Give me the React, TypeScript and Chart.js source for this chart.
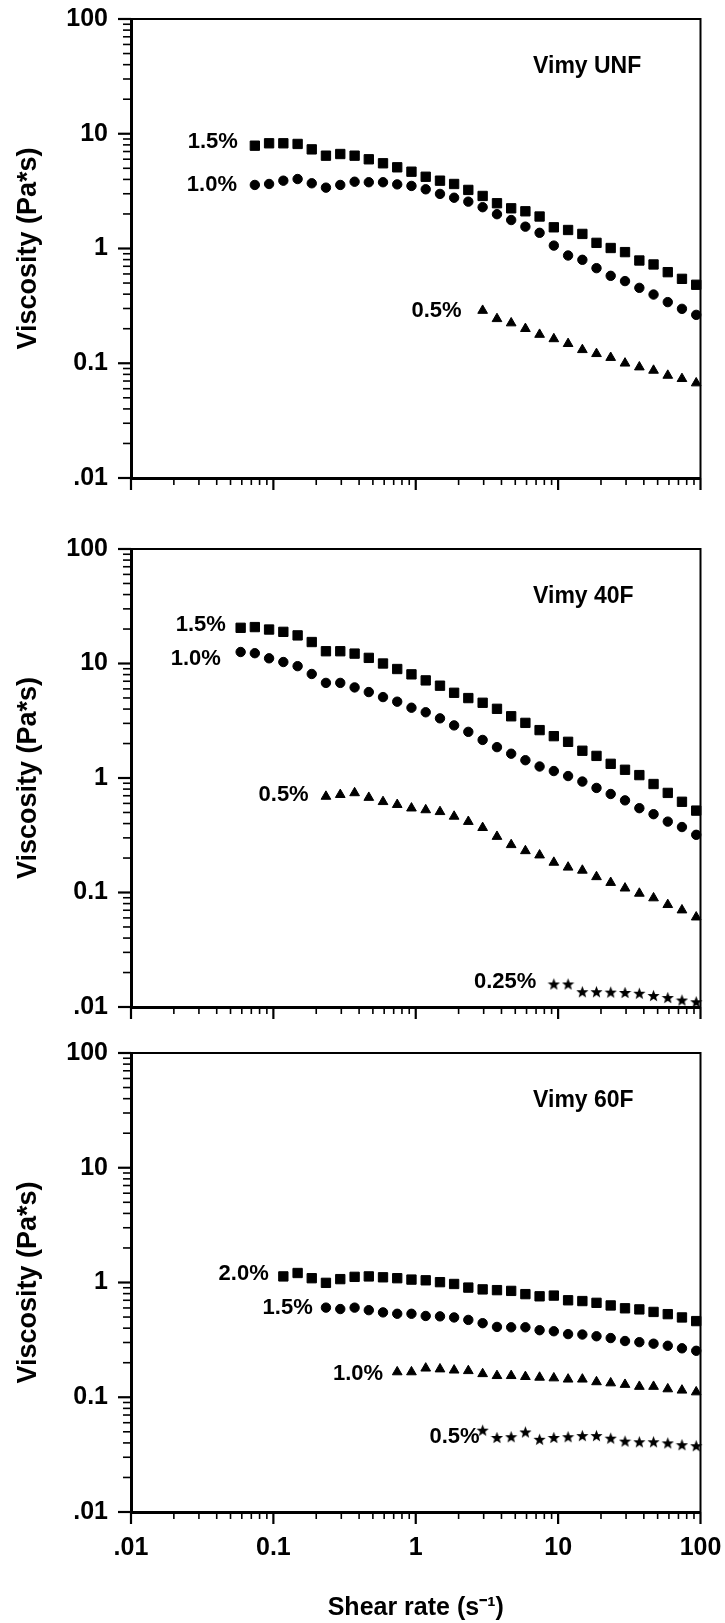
import React, { useEffect, useRef } from "react";
import { Chart, registerables } from "chart.js";

Chart.register(...registerables);

// ---------- shared axis data ----------
const SHEAR_RATE = [
  0.0589, 0.0741, 0.0933, 0.1175, 0.148, 0.186, 0.234, 0.295, 0.372, 0.468, 0.589,
  0.741, 0.933, 1.175, 1.48, 1.86, 2.34, 2.95, 3.72, 4.68, 5.89, 7.41, 9.33, 11.75,
  14.8, 18.6, 23.4, 29.5, 37.2, 46.8, 58.9, 74.1, 93.3,
];
const MAJOR_TICKS = [0.01, 0.1, 1, 10, 100];
const X_TICK_LABELS = [".01", "0.1", "1", "10", "100"];
const Y_TICK_LABELS = [".01", "0.1", "1", "10", "100"];
const X_TITLE = "Shear rate (s\u207B\u00B9)";
const Y_TITLE = "Viscosity (Pa*s)";

// ---------- Vimy UNF ----------
const UNF_15 = [
  7.87, 8.26, 8.26, 8.15, 7.31, 6.44, 6.66, 6.44, 5.99, 5.53, 5.1, 4.67, 4.22, 3.9, 3.65,
  3.24, 2.87, 2.48, 2.24, 2.11, 1.9, 1.53, 1.45, 1.34, 1.12, 1.01, 0.93, 0.786, 0.726,
  0.622, 0.544, 0.483,
];
const UNF_10 = [
  3.58, 3.65, 3.9, 4.03, 3.7, 3.39, 3.58, 3.82, 3.78, 3.78, 3.62, 3.51, 3.28, 2.99, 2.77,
  2.56, 2.29, 1.99, 1.77, 1.55, 1.37, 1.06, 0.869, 0.797, 0.674, 0.578, 0.52, 0.454,
  0.397, 0.341, 0.298, 0.264,
];
const UNF_05 = [
  0.288, 0.244, 0.224, 0.2, 0.178, 0.163, 0.148, 0.131, 0.121, 0.112, 0.1, 0.0926, 0.0866,
  0.0783, 0.0733, 0.0672,
];

// ---------- Vimy 40F ----------
const F40_15 = [
  20.5, 20.8, 19.8, 18.9, 17.6, 15.4, 12.8, 12.8, 12.2, 11.2, 10.0, 8.95, 8.04, 7.12, 6.4,
  5.55, 4.99, 4.54, 4.02, 3.46, 3.03, 2.62, 2.32, 2.07, 1.73, 1.56, 1.33, 1.18, 1.06,
  0.886, 0.741, 0.62, 0.519,
];
const F40_10 = [
  12.6, 12.3, 11.1, 10.3, 9.48, 8.1, 6.77, 6.77, 6.18, 5.63, 5.09, 4.64, 4.11, 3.75, 3.32,
  2.88, 2.53, 2.15, 1.86, 1.63, 1.43, 1.26, 1.15, 1.04, 0.931, 0.819, 0.725, 0.638, 0.545,
  0.483, 0.416, 0.373, 0.319,
];
const F40_05 = [
  0.69, 0.715, 0.741, 0.675, 0.62, 0.585, 0.545, 0.526, 0.507, 0.462, 0.416, 0.368, 0.308,
  0.261, 0.231, 0.212, 0.183, 0.166, 0.156, 0.137, 0.122, 0.109, 0.0982, 0.0895, 0.0782,
  0.0702, 0.0609,
];
const F40_025 = [
  0.0159, 0.0159, 0.0136, 0.0136, 0.0135, 0.0134, 0.0132, 0.0126, 0.0121, 0.0115, 0.0111,
];

// ---------- Vimy 60F ----------
const F60_20 = [
  1.13, 1.21, 1.09, 0.993, 1.07, 1.12, 1.13, 1.11, 1.09, 1.06, 1.045, 1.007, 0.971, 0.903,
  0.871, 0.858, 0.845, 0.792, 0.758, 0.769, 0.7, 0.689, 0.665, 0.631, 0.596, 0.583, 0.554,
  0.53, 0.496, 0.461,
];
const F60_15 = [
  0.604, 0.587, 0.604, 0.574, 0.549, 0.534, 0.534, 0.511, 0.507, 0.496, 0.472, 0.442, 0.41,
  0.407, 0.407, 0.384, 0.376, 0.355, 0.352, 0.34, 0.328, 0.309, 0.302, 0.293, 0.281, 0.267,
  0.254,
];
const F60_10 = [
  0.166, 0.166, 0.179, 0.176, 0.172, 0.17, 0.16, 0.154, 0.154, 0.151, 0.149, 0.147, 0.1435,
  0.1435, 0.136, 0.133, 0.129, 0.124, 0.124, 0.118, 0.115, 0.111,
];
const F60_05 = [
  0.0517, 0.0446, 0.0453, 0.0498, 0.043, 0.0446, 0.0453, 0.0463, 0.0463, 0.044, 0.0415,
  0.0409, 0.0409, 0.04, 0.0386, 0.0378,
];

const FONT = "'Liberation Sans', Arial, Helvetica, sans-serif";

type Marker = "rect" | "circle" | "triangle" | "star";
type Series = { name: string; x: number[]; y: number[]; marker: Marker };
type Note = { text: string; at: [number, number] };
type PanelDef = {
  title: string;
  series: Series[];
  notes: Note[];
  top: number;
  height: number;
  padTop: number;
  padBottom: number;
  xAxisHeight: number;
  showX: boolean;
};

const tail = (n: number) => SHEAR_RATE.slice(SHEAR_RATE.length - n);

const PANELS: PanelDef[] = [
  {
    title: "Vimy UNF",
    series: [
      { name: "1.5%", x: tail(UNF_15.length), y: UNF_15, marker: "rect" },
      { name: "1.0%", x: tail(UNF_10.length), y: UNF_10, marker: "circle" },
      { name: "0.5%", x: tail(UNF_05.length), y: UNF_05, marker: "triangle" },
    ],
    notes: [
      { text: "1.5%", at: [0.0563, 8.5] },
      { text: "1.0%", at: [0.0555, 3.57] },
      { text: "0.5%", at: [2.1, 0.285] },
    ],
    top: 0,
    height: 510,
    padTop: 19,
    padBottom: 12,
    xAxisHeight: 20,
    showX: false,
  },
  {
    title: "Vimy 40F",
    series: [
      { name: "1.5%", x: tail(F40_15.length), y: F40_15, marker: "rect" },
      { name: "1.0%", x: tail(F40_10.length), y: F40_10, marker: "circle" },
      { name: "0.5%", x: tail(F40_05.length), y: F40_05, marker: "triangle" },
      { name: "0.25%", x: tail(F40_025.length), y: F40_025, marker: "star" },
    ],
    notes: [
      { text: "1.5%", at: [0.0464, 21.7] },
      { text: "1.0%", at: [0.0428, 10.9] },
      { text: "0.5%", at: [0.177, 0.716] },
      { text: "0.25%", at: [7.03, 0.0165] },
    ],
    top: 510,
    height: 520,
    padTop: 39,
    padBottom: 3,
    xAxisHeight: 20,
    showX: false,
  },
  {
    title: "Vimy 60F",
    series: [
      { name: "2.0%", x: tail(F60_20.length), y: F60_20, marker: "rect" },
      { name: "1.5%", x: tail(F60_15.length), y: F60_15, marker: "circle" },
      { name: "1.0%", x: tail(F60_10.length), y: F60_10, marker: "triangle" },
      { name: "0.5%", x: tail(F60_05.length), y: F60_05, marker: "star" },
    ],
    notes: [
      { text: "2.0%", at: [0.0927, 1.19] },
      { text: "1.5%", at: [0.189, 0.6] },
      { text: "1.0%", at: [0.59, 0.16] },
      { text: "0.5%", at: [2.81, 0.0451] },
    ],
    top: 1030,
    height: 593,
    padTop: 23,
    padBottom: 0,
    xAxisHeight: 111,
    showX: true,
  },
];

function makeStar(): HTMLCanvasElement {
  const c = document.createElement("canvas");
  c.width = 13;
  c.height = 13;
  const ctx = c.getContext("2d")!;
  ctx.fillStyle = "#000";
  ctx.beginPath();
  for (let i = 0; i < 10; i++) {
    const r = i % 2 === 0 ? 6.4 : 2.7;
    const a = -Math.PI / 2 + (i * Math.PI) / 5;
    const px = 6.5 + r * Math.cos(a);
    const py = 7.1 + r * Math.sin(a);
    if (i === 0) ctx.moveTo(px, py);
    else ctx.lineTo(px, py);
  }
  ctx.closePath();
  ctx.fill();
  return c;
}

const hiddenTickGrid = (len: number) => ({
  display: true,
  drawOnChartArea: false,
  drawTicks: true,
  tickLength: len,
  color: "rgba(0,0,0,0)",
});

function Panel({ def }: { def: PanelDef }) {
  const ref = useRef<HTMLCanvasElement>(null);

  useEffect(() => {
    const star = makeStar();
    const radius: Record<Marker, number> = { rect: 6.6, circle: 4.7, triangle: 5.6, star: 6 };

    const datasets = def.series.map((s) => ({
      label: s.name,
      data: s.x.map((xv, i) => ({ x: xv, y: s.y[i] })),
      showLine: false,
      pointStyle: (s.marker === "star" ? star : s.marker) as any,
      pointRadius: radius[s.marker],
      pointBackgroundColor: "#000",
      pointBorderColor: "#000",
      pointBorderWidth: 1,
      clip: false as any,
    }));

    const decor = {
      id: "decor",
      afterDatasetsDraw(chart: any) {
        const { ctx, chartArea: a, scales } = chart;
        const x = scales.x;
        const y = scales.y;
        ctx.save();
        ctx.strokeStyle = "#000";
        ctx.fillStyle = "#000";
        ctx.lineWidth = 2;
        ctx.beginPath();
        ctx.moveTo(a.left, a.top);
        ctx.lineTo(a.right, a.top);
        ctx.lineTo(a.right, a.bottom);
        ctx.stroke();
        for (let e = -2; e <= 2; e++) {
          for (let m = 1; m <= 9; m++) {
            const v = m * Math.pow(10, e);
            if (v > 100.0001) break;
            const major = m === 1;
            ctx.lineWidth = major ? 2.2 : 1.6;
            const py = y.getPixelForValue(v);
            ctx.beginPath();
            ctx.moveTo(a.left - (major ? 13 : 8), py);
            ctx.lineTo(a.left, py);
            ctx.stroke();
            const px = x.getPixelForValue(v);
            ctx.beginPath();
            ctx.moveTo(px, a.bottom);
            ctx.lineTo(px, a.bottom + (major ? 12 : 7));
            ctx.stroke();
          }
        }
        ctx.font = `bold 23px ${FONT}`;
        ctx.textAlign = "left";
        ctx.textBaseline = "middle";
        ctx.fillText(def.title, a.left + a.width * 0.706, a.top + 48);
        ctx.font = `bold 22px ${FONT}`;
        ctx.textAlign = "right";
        def.notes.forEach((n) => {
          ctx.fillText(n.text, x.getPixelForValue(n.at[0]), y.getPixelForValue(n.at[1]));
        });
        ctx.restore();
      },
    };

    const chart = new Chart(ref.current!, {
      type: "scatter",
      data: { datasets },
      options: {
        responsive: false,
        animation: false,
        devicePixelRatio: 1,
        layout: { padding: { left: 0, top: def.padTop, right: 24.5, bottom: def.padBottom } },
        plugins: { legend: { display: false }, tooltip: { enabled: false } },
        scales: {
          x: {
            type: "logarithmic",
            position: "bottom",
            min: 0.01,
            max: 100,
            afterBuildTicks: (s: any) => {
              s.ticks = MAJOR_TICKS.map((v) => ({ value: v }));
            },
            afterFit: (s: any) => {
              s.height = def.xAxisHeight;
            },
            grid: hiddenTickGrid(21),
            border: { display: true, width: 3, color: "#000" },
            ticks: {
              display: def.showX,
              autoSkip: false,
              maxRotation: 0,
              padding: 0,
              color: "#000",
              font: { family: FONT, size: 25, weight: "bold" },
              callback: (v: any) => X_TICK_LABELS[MAJOR_TICKS.indexOf(Number(v))] ?? "",
            },
            title: {
              display: def.showX,
              text: X_TITLE,
              color: "#000",
              font: { family: FONT, size: 25, weight: "bold" },
              padding: { top: 0, bottom: 0 },
            },
          },
          y: {
            type: "logarithmic",
            position: "left",
            min: 0.01,
            max: 100,
            afterBuildTicks: (s: any) => {
              s.ticks = MAJOR_TICKS.map((v) => ({ value: v }));
            },
            afterFit: (s: any) => {
              s.width = 131;
            },
            grid: hiddenTickGrid(23),
            border: { display: true, width: 3, color: "#000" },
            ticks: {
              autoSkip: false,
              padding: 0,
              color: "#000",
              font: { family: FONT, size: 25, weight: "bold" },
              callback: (v: any) => Y_TICK_LABELS[MAJOR_TICKS.indexOf(Number(v))] ?? "",
            },
            title: {
              display: true,
              text: Y_TITLE,
              color: "#000",
              font: { family: FONT, size: 27, weight: "bold" },
              padding: { top: 12, bottom: 0 },
            },
          },
        },
      } as any,
      plugins: [decor],
    });
    return () => chart.destroy();
  }, [def]);

  return (
    <canvas
      ref={ref}
      width={725}
      height={def.height}
      style={{ position: "absolute", left: 0, top: def.top, display: "block" }}
    />
  );
}

export default function App() {
  return (
    <div
      style={{
        position: "absolute",
        left: 0,
        top: 0,
        width: 725,
        height: 1623,
        background: "#fff",
        overflow: "hidden",
      }}
    >
      {PANELS.map((p) => (
        <Panel key={p.title} def={p} />
      ))}
    </div>
  );
}
